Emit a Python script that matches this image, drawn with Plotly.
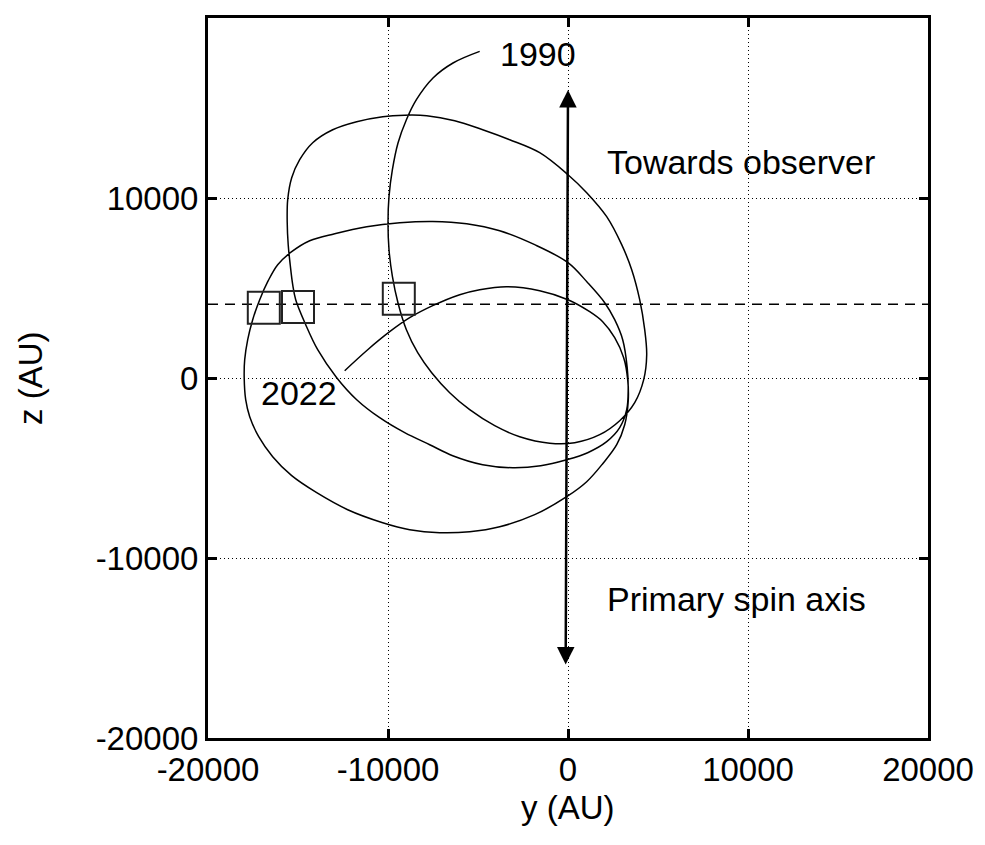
import plotly.graph_objects as go

# Projected orbit, 1990 -> 2022 (AU)
orbit_y = [-4906, -6389, -7500, -8422, -8978, -9444, -9756, -9944, -10000, -9944,
           -9756, -9444, -8978, -8350, -7572, -6572, -5461, -4072, -2683, -1017,
           372, 1761, 2872, 3706, 4206, 4372, 4261, 3983, 3539, 2983,
           2150, 1039, 0, -1572, -3239, -4739, -6294, -7850, -9072, -10294,
           -11739, -13072, -14183, -14906, -15350, -15572, -15600, -15544, -15433, -15294,
           -15128, -14572, -13906, -12850, -11739, -10461, -9072, -7683, -6406, -4739,
           -3072, -1517, -72, 1094, 2150, 2872, 3261, 3344, 3289, 3039,
           2594, 2039, 1094, 0, -1850, -3794, -5628, -7517, -9350, -11183,
           -12961, -14350, -15350, -16128, -16683, -17128, -17517, -17794, -17961, -17989,
           -17906, -17683, -17183, -16406, -15350, -13961, -12239, -10294, -8794, -7128,
           -5461, -3794, -1850, -72, 1039, 1928, 2706, 3150, 3344, 3317,
           3094, 2594, 1928, 1206, 0, -1572, -3406, -4906, -6017, -7517,
           -8794, -9906, -11128, -12406]
orbit_z = [18144, 17500, 16667, 15461, 14350, 13056, 11572, 10089, 8611, 7128,
           5644, 4167, 2683, 1406, 294, -817, -1761, -2650, -3261, -3622,
           -3594, -3150, -2372, -1372, -94, 1294, 2683, 4350, 6017, 7406,
           8961, 10294, 11294, 12517, 13239, 13794, 14294, 14572, 14600, 14517,
           14239, 13794, 13072, 12128, 11128, 9906, 8683, 7406, 6294, 5183,
           4350, 2961, 1572, 17, -1206, -2206, -3039, -3706, -4317, -4817,
           -4983, -4872, -4539, -4150, -3539, -2761, -1761, -650, 572, 2128,
           3239, 4183, 5294, 6406, 7406, 8183, 8572, 8700, 8628, 8406,
           8017, 7628, 7017, 6294, 5350, 4350, 3239, 2128, 1017, 17,
           -1206, -2150, -3261, -4372, -5428, -6372, -7317, -8039, -8428, -8594,
           -8539, -8261, -7594, -6594, -5761, -4761, -3706, -2594, -1317, -94,
           1128, 2239, 3128, 3683, 4350, 4850, 5072, 4906, 4628, 4017,
           3350, 2572, 1572, 406]

# Observed positions (open squares)
obs_y = [-16900, -15000, -9400]
obs_z = [3900, 3950, 4400]

# Reference level (dashed line)
ref_z = 4100

# Primary spin axis (double arrow)
axis_y = [0, -130]
axis_z = [16000, -16000]

# Text labels
label_texts = ["1990", "2022", "Towards observer", "Primary spin axis"]
label_y = [-3900, -17150, 2030, 2030]
label_z = [18000, -830, 12000, -12300]

tick_vals = [-20000, -10000, 0, 10000, 20000]
tick_text = ["-20000", "-10000", "0", "10000", "20000"]

FONT = "Liberation Sans, Arial, sans-serif"

fig = go.Figure()

fig.add_trace(go.Scatter(
    x=[-20000, 20000], y=[ref_z, ref_z], mode="lines",
    line=dict(color="black", width=1.5, dash="10px,7px"),
    hoverinfo="skip", showlegend=False))

fig.add_trace(go.Scatter(
    x=orbit_y, y=orbit_z, mode="lines",
    line=dict(color="black", width=1.5, shape="spline", smoothing=1.0),
    showlegend=False))

fig.add_trace(go.Scatter(
    x=obs_y, y=obs_z, mode="markers",
    marker=dict(symbol="square-open", size=32, color="#222222",
                line=dict(width=2, color="#222222")),
    showlegend=False))

fig.add_annotation(
    x=axis_y[0], y=axis_z[0], ax=axis_y[1], ay=axis_z[1],
    xref="x", yref="y", axref="x", ayref="y",
    text="", showarrow=True, arrowhead=2, startarrowhead=2,
    arrowside="end+start", arrowsize=1.4, startarrowsize=1.4,
    arrowwidth=2.5, arrowcolor="black")

for t, lx, lz in zip(label_texts, label_y, label_z):
    fig.add_annotation(x=lx, y=lz, xref="x", yref="y", text=t, showarrow=False,
                       xanchor="left", yanchor="middle",
                       font=dict(family=FONT, size=34, color="black"))

# Axis titles
fig.add_annotation(x=0.5, y=-0.0968, xref="paper", yref="paper", text="y (AU)",
                   showarrow=False, xanchor="center", yanchor="middle",
                   font=dict(family=FONT, size=33, color="black"))
fig.add_annotation(x=-0.2472, y=0.5, xref="paper", yref="paper", text="z (AU)",
                   showarrow=False, xanchor="center", yanchor="middle", textangle=-90,
                   font=dict(family=FONT, size=33, color="black"))

axis_common = dict(
    range=[-20000, 20000], tickvals=tick_vals, ticktext=tick_text,
    showline=True, linecolor="black", linewidth=3, mirror="ticks",
    ticks="inside", ticklen=9, tickwidth=3, tickcolor="black",
    showgrid=True, gridcolor="black", gridwidth=1, griddash="1px,3px",
    zeroline=False, tickfont=dict(family=FONT, size=33, color="black"),
)

fig.update_xaxes(**axis_common)
fig.update_yaxes(**axis_common)

fig.update_layout(
    width=985, height=845,
    margin=dict(l=208, r=57, t=18, b=107, autoexpand=False),
    plot_bgcolor="white", paper_bgcolor="white",
)

fig.write_html("out.html")
